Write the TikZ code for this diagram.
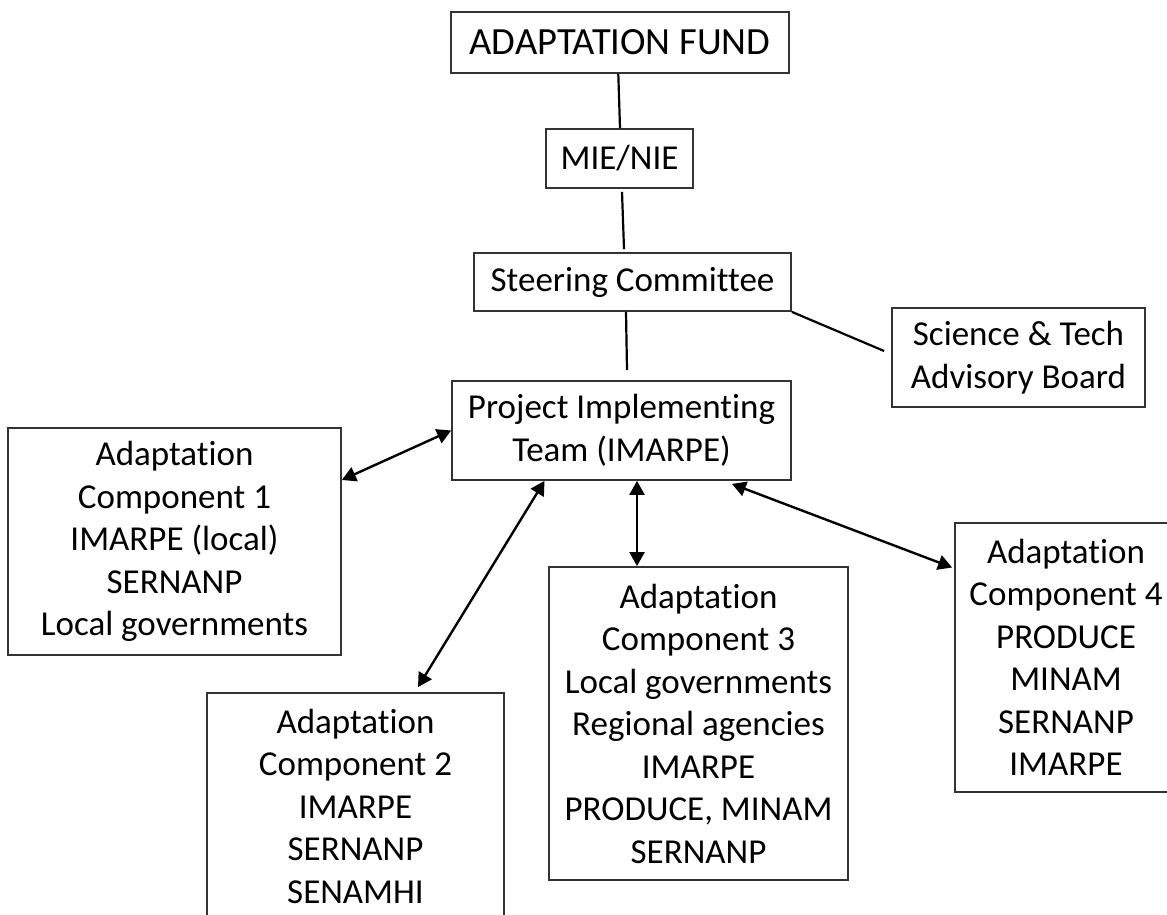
\documentclass[tikz,border=0pt]{standalone}
\usepackage{fontspec}
\setmainfont{Carlito}[Ligatures={NoCommon}]
\usetikzlibrary{arrows.meta}
\tikzset{
  box/.style={draw=black!80, line width=1.8pt, inner sep=0pt, align=center,
              font=\fontsize{35}{42.5}\selectfont, text=black},
  link/.style={draw=black, line width=2.2pt},
  biarrow/.style={draw=black, line width=2.4pt,
     {Triangle[length=14pt,width=15pt]}-{Triangle[length=14pt,width=15pt]}},
}
\begin{document}
\begin{tikzpicture}[x=1pt,y=-1pt]
\useasboundingbox (0,0) rectangle (1167,915);
\node[box, minimum width=338pt, minimum height=61pt, font=\fontsize{38.5}{46}\selectfont] (AF) at (620,42.5) {ADAPTATION FUND};
\node[box, minimum width=147pt, minimum height=59pt] (MIE) at (619.5,158.5) {MIE/NIE};
\node[box, minimum width=317pt, minimum height=58pt] (SC) at (632.5,282) {Steering Committee};
\node[box, minimum width=253pt, minimum height=99pt] (SCI) at (1018.5,357.5) {Science \& Tech\\Advisory Board};
\node[box, minimum width=339pt, minimum height=99pt] (PIT) at (621.5,430.5) {Project Implementing\\Team (IMARPE)};
\node[box, minimum width=333pt, minimum height=227pt] (C1) at (174.5,541.5) {Adaptation\\Component 1\\IMARPE (local)\\SERNANP\\Local governments};
\node[box, minimum width=297pt, minimum height=226pt] (C2) at (355.5,806) {Adaptation\\Component 2\\IMARPE\\SERNANP\\SENAMHI};
\node[box, minimum width=299pt, minimum height=313pt] (C3) at (698.5,723.5) {Adaptation\\Component 3\\Local governments\\Regional agencies\\IMARPE\\PRODUCE, MINAM\\SERNANP};
\node[box, minimum width=222pt, minimum height=269pt] (C4) at (1066,657.5) {Adaptation\\Component 4\\PRODUCE\\MINAM\\SERNANP\\IMARPE};

\draw[link] ([xshift=-1.7pt]AF.south) -- ([xshift=0.5pt]MIE.north);
\draw[link] ([xshift=2.5pt,yshift=-3pt]MIE.south) -- ([xshift=-8.5pt,yshift=3pt]SC.north);
\draw[link] ([xshift=-6.5pt]SC.south) -- ([xshift=5.5pt,yshift=10pt]PIT.north);
\draw[link] (SC.south east) -- ([xshift=-7pt,yshift=6.5pt]SCI.west);

\draw[biarrow] ([yshift=61.5pt]C1.east) -- (PIT.west);
\draw[biarrow] ([xshift=62.5pt,yshift=5pt]C2.north) -- ([xshift=-77pt]PIT.south);
\draw[biarrow] ([xshift=15.5pt]PIT.south) -- ([xshift=-61.5pt]C3.north);
\draw[biarrow] ([xshift=-60pt,yshift=-3pt]PIT.south east) -- ([xshift=-2pt,yshift=90pt]C4.west);
\end{tikzpicture}
\end{document}
